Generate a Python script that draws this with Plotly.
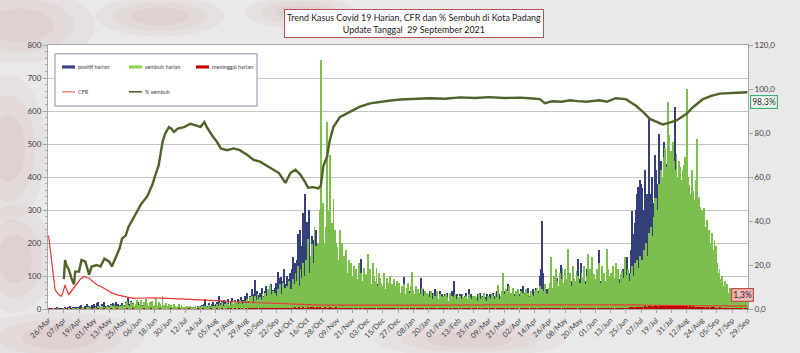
import plotly.graph_objects as go

# ---------------- data ----------------
tick_labels = ["26/Mar", "07/Apr", "19/Apr", "01/May", "13/May", "25/May", "06/Jun", "18/Jun",
               "30/Jun", "12/Jul", "24/Jul", "05/Aug", "17/Aug", "29/Aug", "10/Sep", "22/Sep",
               "04/Oct", "16/Oct", "28/Oct", "09/Nov", "21/Nov", "03/Dec", "15/Dec", "27/Dec",
               "08/Jan", "20/Jan", "01/Feb", "13/Feb", "25/Feb", "09/Mar", "21/Mar", "02/Apr",
               "14/Apr", "26/Apr", "08/May", "20/May", "01/Jun", "13/Jun", "25/Jun", "07/Jul",
               "19/Jul", "31/Jul", "12/Aug", "24/Aug", "05/Sep", "17/Sep", "29/Sep"]

# daily values, 26 Mar 2020 .. 29 Sep 2021 (one row = 12 days)
positif = [
    2, 0, 1, 3, 0, 2, 1, 4, 0, 3, 2, 1,
    3, 5, 2, 6, 4, 8, 3, 5, 2, 7, 4, 6,
    5, 8, 12, 4, 6, 10, 15, 7, 9, 5, 11, 6,
    14, 8, 18, 22, 10, 6, 16, 12, 20, 9, 7, 13,
    10, 15, 8, 18, 12, 20, 9, 14, 6, 11, 17, 8,
    12, 20, 8, 34, 14, 25, 10, 18, 6, 15, 9, 22,
    6, 10, 4, 12, 8, 5, 9, 3, 7, 11, 5, 8,
    4, 8, 3, 6, 2, 9, 5, 3, 7, 4, 6, 2,
    3, 6, 2, 8, 4, 5, 3, 7, 2, 6, 4, 3,
    4, 2, 6, 3, 8, 5, 2, 7, 4, 3, 9, 5,
    8, 12, 6, 15, 30, 10, 7, 18, 9, 14, 22, 11,
    15, 22, 12, 39, 18, 25, 14, 28, 20, 16, 30, 12,
    20, 34, 15, 28, 22, 18, 30, 25, 35, 20, 28, 40,
    30, 49, 25, 40, 35, 60, 45, 89, 38, 55, 42, 50,
    45, 64, 38, 55, 70, 48, 60, 42, 75, 58, 50, 65,
    80, 113, 95, 70, 98, 85, 120, 75, 100, 65, 90, 110,
    120, 158, 95, 140, 150, 228, 170, 238, 190, 292, 150, 347,
    263, 180, 300, 150, 220, 170, 209, 238, 140, 190, 120, 160,
    150, 178, 110, 130, 90, 120, 80, 100, 70, 95, 60, 85,
    60, 90, 50, 110, 70, 85, 45, 95, 65, 80, 55, 100,
    50, 80, 45, 70, 60, 40, 75, 153, 55, 65, 45, 70,
    60, 45, 70, 50, 80, 40, 65, 55, 75, 45, 60, 50,
    45, 60, 35, 55, 40, 70, 50, 35, 60, 45, 55, 40,
    40, 55, 35, 60, 45, 98, 40, 50, 35, 55, 45, 60,
    50, 40, 65, 35, 55, 45, 94, 40, 60, 35, 50, 45,
    40, 55, 30, 50, 35, 60, 40, 45, 30, 55, 35, 45,
    35, 45, 30, 50, 25, 40, 35, 55, 84, 40, 25, 45,
    30, 45, 35, 45, 25, 40, 50, 30, 60, 35, 45, 30,
    30, 40, 25, 45, 35, 50, 30, 40, 25, 35, 45, 30,
    35, 45, 30, 50, 40, 35, 55, 30, 45, 35, 40, 50,
    40, 55, 35, 75, 45, 50, 35, 60, 45, 40, 55, 50,
    45, 60, 40, 70, 50, 35, 55, 65, 40, 50, 45, 60,
    50, 65, 40, 55, 100, 120, 268, 110, 50, 45, 60, 40,
    70, 90, 60, 85, 55, 75, 95, 65, 80, 134, 60, 75,
    65, 90, 75, 110, 60, 85, 70, 95, 55, 80, 153, 70,
    90, 140, 70, 100, 85, 120, 65, 95, 80, 110, 70, 90,
    80, 95, 70, 178, 85, 110, 60, 90, 75, 100, 65, 85,
    70, 95, 60, 85, 75, 110, 65, 90, 100, 80, 120, 95,
    100, 158, 120, 108, 180, 298, 228, 260, 300, 350, 370, 392,
    380, 367, 300, 420, 260, 350, 581, 330, 347, 400, 320, 467,
    420, 380, 531, 337, 450, 400, 506, 380, 440, 531, 420, 460,
    380, 350, 420, 611, 300, 340, 280, 320, 260, 300, 240, 280,
    260, 220, 280, 200, 240, 180, 220, 160, 200, 150, 180, 140,
    130, 150, 110, 120, 90, 100, 80, 95, 70, 85, 60, 75,
    60, 55, 45, 50, 40, 45, 35, 40, 30, 35, 25, 30,
    25, 20, 30, 15, 22, 18, 12, 20, 15, 10, 18, 12, 15,
]

sembuh = [
    0, 0, 0, 0, 0, 0, 0, 1, 0, 0, 0, 0,
    1, 0, 2, 0, 1, 3, 0, 2, 1, 0, 2, 1,
    2, 1, 3, 5, 2, 0, 4, 3, 6, 2, 1, 3,
    3, 6, 2, 8, 4, 5, 10, 3, 7, 2, 9, 4,
    6, 12, 4, 9, 15, 7, 10, 5, 13, 8, 6, 11,
    10, 18, 25, 12, 8, 20, 15, 22, 9, 16, 28, 12,
    15, 28, 10, 20, 12, 30, 18, 8, 22, 14, 25, 10,
    12, 34, 8, 20, 15, 10, 38, 12, 6, 18, 9, 14,
    8, 12, 5, 15, 10, 6, 9, 14, 4, 11, 7, 5,
    5, 8, 3, 6, 10, 4, 7, 5, 9, 3, 6, 8,
    6, 9, 4, 8, 10, 7, 5, 12, 6, 9, 8, 10,
    8, 14, 10, 18, 12, 20, 9, 15, 11, 22, 16, 13,
    12, 20, 15, 25, 18, 22, 14, 28, 20, 16, 24, 19,
    15, 30, 20, 35, 25, 40, 22, 38, 28, 45, 30, 35,
    28, 45, 35, 50, 40, 60, 32, 74, 45, 55, 38, 50,
    40, 60, 55, 75, 45, 80, 50, 65, 70, 55, 85, 60,
    60, 90, 75, 110, 85, 130, 70, 120, 95, 140, 100, 150,
    130, 211, 110, 160, 198, 140, 250, 190, 120, 200, 300, 755,
    280, 320, 200, 250, 566, 300, 466, 220, 260, 332, 240, 200,
    188, 150, 240, 120, 200, 160, 130, 180, 110, 150, 90, 140,
    100, 130, 80, 120, 90, 140, 70, 110, 85, 125, 95, 105,
    168, 90, 120, 75, 140, 100, 85, 123, 70, 110, 95, 80,
    70, 110, 60, 95, 80, 65, 100, 75, 55, 90, 70, 85,
    60, 80, 50, 70, 55, 75, 45, 65, 80, 50, 70, 113,
    55, 45, 70, 40, 60, 50, 45, 65, 40, 55, 35, 50,
    45, 35, 55, 30, 50, 40, 35, 55, 30, 45, 40, 35,
    40, 30, 45, 35, 25, 50, 30, 40, 35, 45, 30, 40,
    35, 40, 30, 45, 35, 25, 40, 30, 45, 35, 30, 40,
    30, 40, 35, 25, 45, 30, 40, 35, 50, 30, 25, 40,
    35, 30, 45, 40, 30, 50, 35, 74, 30, 40, 55, 108,
    45, 60, 40, 55, 70, 50, 45, 65, 40, 55, 50, 60,
    40, 55, 35, 50, 45, 60, 40, 50, 35, 55, 45, 40,
    55, 45, 65, 50, 70, 40, 60, 55, 75, 50, 45, 65,
    80, 158, 65, 100, 75, 120, 85, 70, 110, 90, 125, 80,
    120, 90, 183, 80, 110, 70, 130, 95, 85, 115, 100, 75,
    80, 110, 95, 130, 75, 100, 168, 90, 120, 158, 85, 105,
    90, 120, 100, 140, 80, 130, 95, 110, 85, 183, 120, 100,
    110, 85, 130, 95, 138, 90, 120, 80, 105, 115, 95, 158,
    90, 104, 120, 85, 110, 130, 100, 140, 115, 150, 125, 160,
    120, 150, 180, 140, 200, 160, 230, 208, 250, 220, 280, 337,
    337, 300, 380, 350, 420, 400, 460, 487, 430, 626, 526, 470,
    480, 506, 450, 420, 470, 400, 447, 430, 390, 420, 437, 460,
    666, 400, 377, 350, 420, 358, 330, 390, 516, 340, 337, 310,
    300, 280, 307, 250, 270, 223, 240, 200, 230, 180, 208, 190,
    140, 108, 120, 90, 100, 70, 85, 60, 75, 50, 65, 45,
    45, 55, 40, 50, 35, 45, 30, 40, 35, 25, 35, 30, 28,
]

meninggal = [
    1, 0, 0, 1, 0, 0, 0, 0, 1, 0, 0, 0,
    0, 0, 1, 0, 0, 0, 1, 0, 0, 0, 0, 0,
    0, 1, 0, 0, 0, 1, 0, 0, 0, 0, 1, 0,
    0, 0, 0, 1, 0, 0, 0, 0, 1, 0, 0, 0,
    0, 1, 0, 0, 0, 0, 1, 0, 0, 0, 0, 0,
    0, 0, 1, 0, 0, 0, 0, 1, 0, 0, 0, 0,
    0, 0, 0, 1, 0, 0, 0, 0, 0, 1, 0, 0,
    0, 0, 0, 0, 1, 0, 0, 0, 0, 0, 0, 0,
    0, 1, 0, 0, 0, 0, 0, 1, 0, 0, 0, 0,
    0, 0, 0, 1, 0, 0, 0, 0, 0, 0, 1, 0,
    0, 0, 1, 0, 0, 0, 0, 0, 1, 0, 0, 0,
    0, 1, 0, 0, 0, 1, 0, 0, 0, 0, 1, 0,
    1, 0, 0, 1, 0, 0, 1, 0, 0, 1, 0, 0,
    1, 0, 2, 1, 0, 1, 2, 0, 1, 1, 0, 2,
    1, 2, 0, 1, 2, 1, 0, 2, 1, 1, 2, 1,
    2, 1, 2, 1, 3, 1, 2, 2, 1, 3, 2, 1,
    2, 3, 1, 4, 2, 3, 5, 2, 3, 4, 2, 3,
    3, 4, 2, 5, 3, 4, 2, 3, 5, 2, 4, 3,
    2, 3, 4, 2, 3, 2, 4, 3, 2, 3, 2, 4,
    2, 1, 3, 2, 1, 2, 3, 1, 2, 2, 1, 3,
    1, 0, 2, 1, 1, 0, 2, 1, 0, 1, 2, 1,
    1, 2, 0, 1, 1, 2, 1, 0, 1, 2, 1, 1,
    0, 1, 2, 1, 0, 1, 1, 2, 0, 1, 1, 0,
    1, 0, 1, 2, 1, 0, 1, 1, 2, 0, 1, 1,
    1, 1, 0, 1, 2, 1, 0, 1, 1, 0, 2, 1,
    0, 1, 1, 0, 1, 1, 2, 0, 1, 1, 0, 1,
    1, 0, 1, 1, 0, 2, 1, 0, 1, 0, 1, 1,
    0, 1, 0, 1, 1, 0, 1, 1, 0, 1, 0, 1,
    1, 0, 1, 0, 1, 1, 0, 1, 0, 1, 1, 0,
    0, 1, 1, 0, 1, 0, 1, 0, 1, 1, 0, 1,
    1, 0, 1, 1, 0, 1, 0, 1, 1, 0, 1, 0,
    0, 1, 0, 1, 1, 0, 2, 1, 0, 1, 0, 1,
    1, 1, 0, 2, 1, 0, 1, 1, 2, 0, 1, 1,
    1, 0, 2, 1, 1, 0, 1, 2, 1, 0, 1, 1,
    0, 1, 1, 2, 0, 1, 1, 0, 2, 1, 0, 1,
    1, 2, 0, 1, 1, 2, 1, 0, 1, 2, 1, 0,
    1, 0, 1, 2, 1, 1, 0, 2, 1, 1, 2, 1,
    2, 1, 1, 0, 2, 1, 1, 2, 1, 0, 2, 2,
    2, 3, 2, 4, 3, 5, 4, 3, 5, 6, 4, 5,
    4, 6, 3, 8, 5, 7, 10, 6, 9, 5, 8, 12,
    8, 10, 7, 12, 9, 11, 8, 13, 10, 9, 12, 11,
    10, 9, 12, 8, 11, 10, 7, 9, 8, 10, 7, 9,
    8, 6, 7, 9, 6, 8, 5, 7, 6, 5, 7, 6,
    5, 4, 6, 3, 5, 4, 3, 5, 4, 3, 4, 3,
    3, 2, 4, 1, 3, 2, 1, 2, 3, 1, 2, 1,
    1, 2, 1, 0, 1, 1, 0, 1, 2, 0, 1, 1, 1,
]

# % sembuh (right axis), read at day offsets from 26 Mar 2020
pct_days = [12, 13, 14, 16, 18, 20, 21, 24, 26, 29, 32, 34, 38, 41, 44, 48, 50, 53, 56, 58,
            61, 63, 66, 69, 73, 78, 82, 84, 87, 90, 92, 95, 97, 99, 102, 107, 112, 117, 120, 123,
            125, 129, 133, 136, 141, 146, 151, 157, 162, 167, 173, 178, 182, 187, 191, 195, 199,
            203, 205, 209, 213, 215, 217, 220, 222, 225, 230, 235, 240, 246, 254, 262, 270, 278,
            290, 301, 313, 325, 337, 348, 360, 372, 380, 388, 392, 398, 405, 412, 418, 425, 435,
            441, 448, 456, 464, 470, 475, 480, 485, 490, 496, 504, 509, 517, 523, 530, 540, 552]
pct_sembuh = [13.6, 22.2, 20.0, 17.9, 14.0, 11.2, 17.0, 17.0, 22.3, 21.5, 15.6, 19.3, 20.0, 19.3,
              22.9, 21.5, 19.3, 23.0, 27.5, 32.0, 33.5, 37.2, 40.3, 44.0, 47.6, 51.3, 56.6, 60.3,
              65.5, 76.0, 79.7, 82.7, 82.0, 80.5, 82.0, 82.7, 84.2, 83.4, 82.7, 85.0, 82.7, 79.0,
              76.0, 73.0, 72.2, 73.0, 72.2, 70.0, 67.8, 67.0, 64.8, 63.3, 61.8, 57.3, 61.8, 63.3,
              61.0, 57.3, 55.1, 55.4, 54.8, 56.0, 64.8, 69.3, 76.5, 82.7, 87.2, 88.7, 90.1, 92.0,
              93.5, 94.2, 94.8, 95.2, 95.5, 95.8, 95.6, 96.2, 95.9, 96.3, 95.9, 96.1, 95.8, 95.4,
              93.6, 94.4, 94.2, 94.9, 94.5, 94.2, 94.9, 94.2, 95.8, 95.4, 92.4, 89.4, 86.4, 85.0,
              83.9, 84.6, 85.7, 88.7, 91.7, 95.4, 96.8, 97.9, 98.3, 98.5]

# CFR (right axis)
cfr_days = [0, 1, 2, 4, 5, 6, 8, 10, 11, 13, 14, 16, 18, 20, 22, 25, 28, 30, 32, 35, 38, 42, 46,
            51, 55, 59, 63, 67, 75, 80, 90, 100, 110, 120, 133, 146, 160, 172, 185, 200, 215, 300,
            380, 460, 480, 500, 520, 552]
cfr_vals = [33.4, 28.0, 24.0, 14.8, 9.0, 8.0, 6.6, 5.8, 7.0, 11.0, 9.0, 6.6, 8.1, 9.5, 11.0, 13.5,
            14.8, 14.2, 14.0, 12.5, 11.0, 10.0, 8.8, 7.0, 6.3, 5.8, 5.3, 4.8, 5.0, 5.1, 4.9, 4.7,
            4.5, 4.3, 3.8, 3.3, 3.0, 2.6, 2.3, 2.0, 1.8, 1.8, 2.0, 1.9, 1.7, 1.5, 1.4, 1.3]

n = len(positif)
if not (n == len(sembuh) == len(meninggal) == 553):
    raise SystemExit(f"length mismatch {len(positif)} {len(sembuh)} {len(meninggal)}")
days = list(range(n))

# ---------------- layout helpers (pixel -> paper) ----------------
L, R, T, B = 48, 52, 45, 40
W, H = 800, 353
PW, PH = W - L - R, H - T - B


def px(x):
    return (x - L) / PW


def py(y):
    return (H - B - y) / PH


FONT = "Lato, Open Sans, sans-serif"

fig = go.Figure()
fig.add_trace(go.Bar(x=days, y=positif, name="positif harian", marker=dict(color="#34407A", line=dict(width=0)),
                     width=0.95, showlegend=False))
fig.add_trace(go.Bar(x=days, y=sembuh, name="sembuh harian", marker=dict(color="#7DBF4C", line=dict(width=0)),
                     width=0.7, showlegend=False))
fig.add_trace(go.Bar(x=days, y=meninggal, name="meninggal harian", marker=dict(color="#C00000", line=dict(width=0)),
                     width=0.8, showlegend=False))
fig.add_trace(go.Scatter(x=cfr_days, y=cfr_vals, yaxis="y2", mode="lines", name="CFR",
                         line=dict(color="#EE3535", width=1.2), showlegend=False))
fig.add_trace(go.Scatter(x=pct_days, y=pct_sembuh, yaxis="y2", mode="lines", name="% sembuh",
                         line=dict(color="#4F6228", width=2.4), showlegend=False))

shapes = []
# soft, blurred-looking background blotches (layered ellipses)
for cx, cy, rx, ry in [(20, 25, 75, 38), (8, 150, 38, 75), (15, 262, 38, 55),
                       (60, 342, 85, 26), (160, 16, 65, 20), (470, 344, 95, 18), (300, 12, 55, 16)]:
    for k, op in [(1.0, 0.045), (0.72, 0.05), (0.45, 0.055)]:
        shapes.append(dict(type="circle", xref="paper", yref="paper",
                           x0=px(cx - rx * k), x1=px(cx + rx * k),
                           y0=py(cy + ry * k), y1=py(cy - ry * k), fillcolor="#A84848", opacity=op,
                           line=dict(width=0), layer="below"))
# white plot area
shapes.append(dict(type="rect", xref="paper", yref="paper", x0=0, x1=1, y0=0, y1=1,
                   fillcolor="white", line=dict(width=0), layer="below"))
# legend box
shapes.append(dict(type="rect", xref="paper", yref="paper", x0=px(55), x1=px(257), y0=py(107), y1=py(54),
                   fillcolor="white", line=dict(color="#8C8CAE", width=1)))
legend_rows = [
    ("rect", 62, 67.3, "#3A3F80", "positif harian"),
    ("rect", 129, 67.3, "#92D050", "sembuh harian"),
    ("rect", 196, 67.3, "#C00000", "meninggal harian"),
    ("line", 62, 92.5, "#FF7070", "CFR"),
    ("line", 129, 92.5, "#4F6228", "% sembuh"),
]
annotations = []
for kind, x0, yc, col, label in legend_rows:
    if kind == "rect":
        shapes.append(dict(type="rect", xref="paper", yref="paper", x0=px(x0), x1=px(x0 + 13),
                           y0=py(yc + 1.6), y1=py(yc - 1.6), fillcolor=col, line=dict(width=0)))
    else:
        shapes.append(dict(type="line", xref="paper", yref="paper", x0=px(x0), x1=px(x0 + 13),
                           y0=py(yc), y1=py(yc), line=dict(color=col, width=1.3 if label == "CFR" else 1.6)))
    annotations.append(dict(xref="paper", yref="paper", x=px(x0 + 14), y=py(yc), text=label,
                            showarrow=False, xanchor="left", yanchor="middle",
                            font=dict(family=FONT, size=5.5, color="#404040")))

annotations.append(dict(xref="paper", yref="paper", x=px(414), y=py(23),
                        text="Trend Kasus Covid 19 Harian, CFR dan % Sembuh di Kota Padang<br>Update Tanggal&nbsp; 29 September 2021",
                        showarrow=False, xanchor="center", yanchor="middle", align="center",
                        font=dict(family=FONT, size=8.9, color="#1A1A1A"),
                        bgcolor="white", bordercolor="#B85450", borderwidth=1, borderpad=2))
annotations.append(dict(xref="paper", yref="paper", x=px(763.5), y=py(103), text="98,3%",
                        showarrow=False, xanchor="center", yanchor="middle",
                        font=dict(family=FONT, size=8.5, color="#262626"),
                        bgcolor="#F4FBF4", bordercolor="#3CB371", borderwidth=1.2, borderpad=1))
annotations.append(dict(xref="paper", yref="paper", x=px(742), y=py(298.5), text="1,3%",
                        showarrow=False, xanchor="center", yanchor="middle",
                        font=dict(family=FONT, size=8.5, color="#262626"),
                        bgcolor="#F2B8B2", bordercolor="#C0504D", borderwidth=1.2, borderpad=1))

fig.update_layout(
    width=W, height=H,
    margin=dict(l=L, r=R, t=T, b=B),
    paper_bgcolor="#EAE8E8",
    plot_bgcolor="rgba(0,0,0,0)",
    barmode="overlay",
    bargap=0,
    showlegend=False,
    font=dict(family=FONT, size=8, color="#404040"),
    shapes=shapes,
    annotations=annotations,
    xaxis=dict(range=[-0.5, n - 0.5], tickmode="array", tickvals=days[::12], ticktext=tick_labels,
               tickangle=-45, tickfont=dict(family=FONT, size=7.5, color="#404040"),
               ticks="outside", ticklen=3, tickcolor="#A6A6A6", showgrid=False, zeroline=False,
               showline=True, linecolor="#A6A6A6", linewidth=1, mirror=True),
    yaxis=dict(range=[0, 800], dtick=100, tickfont=dict(family=FONT, size=8, color="#404040"),
               showgrid=True, gridcolor="#C4C4C4", gridwidth=1, zeroline=False,
               ticks="outside", ticklen=4, tickcolor="#A6A6A6",
               minor=dict(dtick=20, ticks="outside", ticklen=2, tickcolor="#A6A6A6", showgrid=False),
               showline=True, linecolor="#A6A6A6", linewidth=1),
    yaxis2=dict(range=[0, 120], overlaying="y", side="right", tickmode="array",
                tickvals=[0, 20, 40, 60, 80, 100, 120],
                ticktext=["0,0", "20,0", "40,0", "60,0", "80,0", "100,0", "120,0"],
                tickfont=dict(family=FONT, size=8, color="#404040"), showgrid=False, zeroline=False,
                ticks="outside", ticklen=4, tickcolor="#A6A6A6",
                showline=True, linecolor="#A6A6A6", linewidth=1),
)

fig.write_html("out.html")
